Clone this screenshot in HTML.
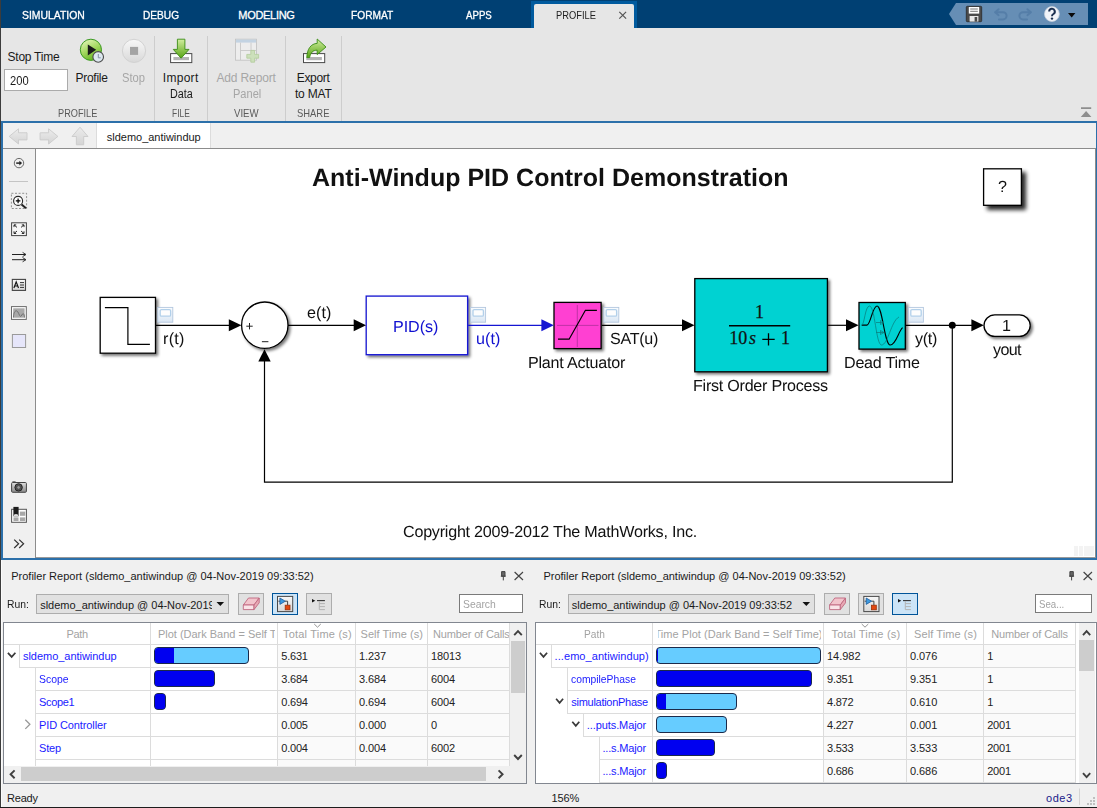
<!DOCTYPE html>
<html><head><meta charset="utf-8"><title>sldemo_antiwindup</title>
<style>
*{box-sizing:border-box;margin:0;padding:0}
html,body{width:1097px;height:808px;overflow:hidden;background:#f0f0f0;font-family:"Liberation Sans",sans-serif;}
.a{position:absolute}
.t{position:absolute;white-space:nowrap;line-height:normal}
svg{position:absolute;left:0;top:0;overflow:visible}
#tabbar{left:0;top:0;width:1097px;height:28px;background:#004073}
#ptab{left:531px;top:1px;width:106px;height:27px;background:#005a9e}
#ptabin{left:534px;top:4px;width:100px;height:24px;background:#e6e6e6;border-radius:2px 2px 0 0}
#strip{left:0;top:28px;width:1097px;height:93px;background:#e6e6e6}
.vsep{position:absolute;top:36px;width:1px;height:85px;background:#cdcdcd}
#editor{left:1px;top:120.5px;width:1096px;height:439px;background:#2c70aa}
#expl{left:3px;top:123px;width:1093px;height:26px;background:#f0f0f0;border-bottom:1.6px solid #8c8c8c}
#etab{left:96.4px;top:123px;width:114.8px;height:24.5px;background:#fff;border-left:1px solid #dcdcdc;border-right:1px solid #dcdcdc}
#pal{left:3px;top:149px;width:33px;height:408.5px;background:#f0f0f0;border-right:1px solid #8c8c8c}
#canvas{left:36px;top:149px;width:1060px;height:408.6px;background:#fff;border-right:1px solid #8c8c8c;border-bottom:0.8px solid #9a9a9a}
#bottom{left:0;top:560px;width:1097px;height:228px;background:#f0f0f0}
#status{left:0;top:788px;width:1097px;height:20px;background:#f0f0f0}
#leftedge{left:0;top:0;width:1px;height:808px;background:#3c3c3c}
.inp{position:absolute;background:#fff;border:1px solid #ababab}
.combo{position:absolute;background:#e1e1e1;border:1px solid #adadad}
.btn{position:absolute;background:#e1e1e1;border:1px solid #adadad}
.btn.sel{background:#cce4f7;border:1px solid #005499}
.tbl{position:absolute;background:#fff;border:1px solid #828790}
.hl{position:absolute;height:1px;background:#dcdcdc}
.vl{position:absolute;width:1px;background:#dcdcdc}
.bar{position:absolute;height:18px;border:1px solid #1b2a4a;border-radius:4px;overflow:hidden;background:#66ccff}
.bar i{position:absolute;left:0;top:0;bottom:0;background:#0000f0;display:block}
.sb{position:absolute;background:#f0f0f0}
.thumb{position:absolute;background:#cdcdcd}

</style></head><body>
<div class="a" id="tabbar"></div>
<div class="a" id="ptab"></div><div class="a" id="ptabin"></div>
<div class="a" id="strip"></div>
<div class="vsep" style="left:154px"></div><div class="vsep" style="left:207px"></div><div class="vsep" style="left:285px"></div><div class="vsep" style="left:341px"></div>
<div class="inp" style="left:4px;top:69px;width:64px;height:22px"></div>
<div class="a" id="editor"></div>
<div class="a" id="expl"></div>
<div class="a" id="etab"></div>
<div class="a" id="pal"></div>
<div class="a" id="canvas"></div>
<div class="a" id="faintrects" style="left:1074px;top:546px;width:3.8px;height:9.7px;background:#f3f3f3"></div><div class="a" style="left:1079.1px;top:546px;width:3.9px;height:9.7px;background:#f3f3f3"></div><div class="a" style="left:1084px;top:546px;width:9.8px;height:9.7px;background:#f3f3f3"></div>
<div class="a" id="bottom"></div>
<div class="a" id="status"></div>
<div class="a" id="leftedge"></div>
<div class="a" style="left:1px;top:560px;width:1px;height:247px;background:#fbfbfb"></div>
<div class="a" id="botedge" style="left:0;top:806.5px;width:1097px;height:1.5px;background:#1c1c1c"></div>
<div class="combo" style="left:36px;top:594px;width:193px;height:20px"></div>
<svg width="1097" height="808"><path d="M216.5 602h7.6l-3.8 4z" fill="#111"/></svg>
<div class="btn" style="left:238px;top:593px;width:26px;height:22px"></div>
<div class="btn sel" style="left:272px;top:593px;width:26px;height:22px"></div>
<div class="btn" style="left:306px;top:593px;width:26px;height:22px"></div>
<div class="inp" style="left:459px;top:594px;width:64px;height:19px;border-color:#7a7a7a"></div>
<div class="tbl" style="left:3px;top:622px;width:524px;height:162px"></div>
<div class="a" style="left:277px;top:645px;width:232px;height:122px;background:#fafafa"></div>
<div class="hl" style="left:4px;top:644px;width:505px"></div>
<div class="hl" style="left:19px;top:667px;width:490px"></div>
<div class="hl" style="left:35px;top:690px;width:474px"></div>
<div class="hl" style="left:35px;top:713px;width:474px"></div>
<div class="hl" style="left:35px;top:736px;width:474px"></div>
<div class="hl" style="left:35px;top:759px;width:474px"></div>
<div class="vl" style="left:150px;top:623px;height:143px"></div>
<div class="vl" style="left:277px;top:623px;height:143px"></div>
<div class="vl" style="left:355px;top:623px;height:143px"></div>
<div class="vl" style="left:427px;top:623px;height:143px"></div>
<div class="vl" style="left:509px;top:623px;height:143px"></div>
<div class="vl" style="left:19px;top:644px;height:24px"></div>
<div class="vl" style="left:35px;top:667px;height:24px"></div>
<div class="vl" style="left:35px;top:690px;height:24px"></div>
<div class="vl" style="left:35px;top:713px;height:24px"></div>
<div class="vl" style="left:35px;top:736px;height:24px"></div>
<div class="vl" style="left:35px;top:759px;height:7px"></div>
<div class="combo" style="left:568px;top:594px;width:247px;height:20px"></div>
<svg width="1097" height="808"><path d="M802.5 602h7.6l-3.8 4z" fill="#111"/></svg>
<div class="btn" style="left:824px;top:593px;width:26px;height:22px"></div>
<div class="btn" style="left:858px;top:593px;width:26px;height:22px"></div>
<div class="btn sel" style="left:892px;top:593px;width:26px;height:22px"></div>
<div class="inp" style="left:1035px;top:594px;width:57px;height:19px;border-color:#7a7a7a"></div>
<div class="tbl" style="left:535px;top:622px;width:562px;height:162px"></div>
<div class="a" style="left:823px;top:645px;width:252px;height:138px;background:#fafafa"></div>
<div class="hl" style="left:536px;top:644px;width:539px"></div>
<div class="hl" style="left:551px;top:667px;width:524px"></div>
<div class="hl" style="left:567px;top:690px;width:508px"></div>
<div class="hl" style="left:567px;top:713px;width:508px"></div>
<div class="hl" style="left:583px;top:736px;width:492px"></div>
<div class="hl" style="left:599px;top:759px;width:476px"></div>
<div class="hl" style="left:599px;top:782px;width:476px"></div>
<div class="vl" style="left:652px;top:623px;height:160px"></div>
<div class="vl" style="left:823px;top:623px;height:160px"></div>
<div class="vl" style="left:906px;top:623px;height:160px"></div>
<div class="vl" style="left:983px;top:623px;height:160px"></div>
<div class="vl" style="left:1075px;top:623px;height:160px"></div>
<div class="vl" style="left:551px;top:644px;height:24px"></div>
<div class="vl" style="left:567px;top:667px;height:24px"></div>
<div class="vl" style="left:567px;top:690px;height:24px"></div>
<div class="vl" style="left:583px;top:713px;height:24px"></div>
<div class="vl" style="left:599px;top:736px;height:24px"></div>
<div class="vl" style="left:599px;top:759px;height:24px"></div>
<div class="bar" style="left:153.7px;top:646.5px;width:95.0px;height:17.8px;background:#66ccff"><i style="width:19.3px"></i></div>
<div class="bar" style="left:153.7px;top:669.5px;width:61.6px;height:17.8px;background:#0000f0"><i style="width:60.6px"></i></div>
<div class="bar" style="left:153.7px;top:692.5px;width:12.8px;height:17.8px;background:#0000f0"><i style="width:11.8px"></i></div>
<div class="bar" style="left:656.0px;top:646.5px;width:165.0px;height:17.8px;background:#66ccff"><i style="width:1.0px"></i></div>
<div class="bar" style="left:656.0px;top:669.5px;width:156.3px;height:17.8px;background:#0000f0"><i style="width:155.3px"></i></div>
<div class="bar" style="left:656.0px;top:692.5px;width:81.2px;height:17.8px;background:#66ccff"><i style="width:9.0px"></i></div>
<div class="bar" style="left:656.0px;top:715.5px;width:71.4px;height:17.8px;background:#66ccff"><i style="width:0.0px"></i></div>
<div class="bar" style="left:656.0px;top:738.5px;width:59.1px;height:17.8px;background:#0000f0"><i style="width:58.1px"></i></div>
<div class="bar" style="left:656.0px;top:761.5px;width:11.2px;height:17.8px;background:#0000f0"><i style="width:10.2px"></i></div>
<svg width="1097" height="808">
<path d="M7.9 652.8L11.7 656.9L15.4 652.8" fill="none" stroke="#3a3a3a" stroke-width="1.7"/>
<path d="M25.3 719.6999999999999L29.9 724.3L25.3 728.9" fill="none" stroke="#999" stroke-width="1.3"/>
<path d="M539.9 652.8L543.5 656.9L547.1 652.8" fill="none" stroke="#3a3a3a" stroke-width="1.7"/>
<path d="M556.1 698.8L559.6 702.9L563.1 698.8" fill="none" stroke="#3a3a3a" stroke-width="1.7"/>
<path d="M572.3 721.8L575.8 725.9L579.3 721.8" fill="none" stroke="#3a3a3a" stroke-width="1.7"/>
</svg>
<!-- left panel scrollbars -->
<div class="sb" style="left:4px;top:766px;width:522px;height:17px"></div>
<div class="thumb" style="left:20.6px;top:767.4px;width:465.4px;height:13.6px"></div>
<div class="sb" style="left:510px;top:623px;width:16px;height:143px"></div>
<div class="thumb" style="left:510.6px;top:640.5px;width:14.6px;height:52.6px"></div>
<!-- right panel scrollbar -->
<div class="sb" style="left:1079px;top:623px;width:16px;height:160px"></div>
<div class="thumb" style="left:1079.4px;top:640.2px;width:14.4px;height:30.4px"></div>
<svg width="1097" height="808"><g fill="none" stroke="#404040" stroke-width="1.9">
<path d="M514.2 635.2L518 631.2L521.8 635.2"/><path d="M514.2 755L518 759L521.8 755"/>
<path d="M14.6 770.4L10.6 774.3L14.6 778.2"/><path d="M498.6 770.4L502.6 774.3L498.6 778.2"/>
<path d="M1083 635.2L1086.6 631.2L1090.2 635.2"/><path d="M1083 773.2L1086.6 777.2L1090.2 773.2"/>
</g>
<!-- status grip -->
<g fill="#bfbfbf"><rect x="1093" y="797" width="2" height="2"/><rect x="1090" y="800" width="2" height="2"/><rect x="1093" y="800" width="2" height="2"/><rect x="1087" y="803" width="2" height="2"/><rect x="1090" y="803" width="2" height="2"/><rect x="1093" y="803" width="2" height="2"/></g>
<path d="M1079.5 788.5V805" stroke="#d4d4d4" stroke-width="1"/>
</svg>

<svg width="1097" height="808" viewBox="0 0 1097 808">
<defs>
<linearGradient id="gGreen" x1="0.2" y1="0" x2="0.7" y2="1"><stop offset="0" stop-color="#e4f6b8"/><stop offset="0.5" stop-color="#a4d860"/><stop offset="1" stop-color="#5cb01c"/></linearGradient>
<linearGradient id="gGreenV" x1="0" y1="0" x2="0" y2="1"><stop offset="0" stop-color="#d2eea0"/><stop offset="1" stop-color="#58a414"/></linearGradient>
<linearGradient id="gGray" x1="0" y1="0" x2="0" y2="1"><stop offset="0" stop-color="#f8f8f8"/><stop offset="1" stop-color="#d8d8d8"/></linearGradient>
<linearGradient id="gNav" x1="0" y1="0" x2="0" y2="1"><stop offset="0" stop-color="#ececec"/><stop offset="1" stop-color="#d4d4d4"/></linearGradient>
<linearGradient id="gCam" x1="0" y1="0" x2="0" y2="1"><stop offset="0" stop-color="#e0e0e0"/><stop offset="1" stop-color="#8a8a8a"/></linearGradient>
</defs>
<!-- quick access toolbar -->
<path d="M949 14L956 3H1088V25H956z" fill="#668eb5"/>
<g><!-- save -->
<rect x="966.3" y="6.3" width="15.4" height="15.4" rx="1" fill="#4a4a4a" stroke="#2a2a2a" stroke-width="0.8"/>
<rect x="968.8" y="7" width="10.4" height="6.6" fill="#fff"/>
<path d="M970.2 9h7.6M970.2 11.3h7.6" stroke="#777" stroke-width="1"/>
<rect x="969.6" y="16" width="8.8" height="5.6" fill="#e8e8e8"/>
<rect x="974.6" y="17" width="2.6" height="4.6" fill="#4a4a4a"/>
</g>
<g fill="none" stroke="#557ea8" stroke-width="2" stroke-linecap="round" stroke-linejoin="round">
<path d="M995.5 12.2H1003a3.6 3.6 0 0 1 0 7.2H999"/><path d="M998.6 9.2L995.2 12.2L998.6 15.2"/>
<path d="M1030.5 12.2H1023a3.6 3.6 0 0 0 0 7.2H1027"/><path d="M1027.4 9.2L1030.8 12.2L1027.4 15.2"/>
</g>
<circle cx="1051.9" cy="14" r="7.4" fill="#f2f4f8" stroke="#c8d0dc" stroke-width="0.8"/>
<path d="M1049.2 11.6a2.8 2.8 0 1 1 4.2 2.4c-1 .6-1.4 1.1-1.4 2.2" fill="none" stroke="#1c3050" stroke-width="2"/>
<circle cx="1052" cy="18.6" r="1.2" fill="#1c3050"/>
<path d="M1068 13h7.4l-3.7 4.4z" fill="#0a0a0a"/>
<!-- PROFILE tab close x -->
<path d="M619.3 11.8l6.8 6.8M626.1 11.8l-6.8 6.8" stroke="#555" stroke-width="1.2"/>
<!-- collapse -->
<path d="M1081 107.2h10.2v1.8H1081zM1086.1 111L1091.4 117H1080.8z" fill="#8e8e8e"/>
<!-- Profile icon -->
<circle cx="90.9" cy="49.8" r="10.6" fill="url(#gGreen)" stroke="#3c9a24" stroke-width="1"/>
<path d="M87.8 44.6V55.4L96.2 49.8z" fill="#1a1a1a"/>
<circle cx="98.2" cy="56.9" r="5.3" fill="#dde8f0" stroke="#4c4c4c" stroke-width="1.1"/>
<path d="M98.3 54v3.8h2.4" fill="none" stroke="#8090a0" stroke-width="1"/>
<!-- Stop icon -->
<circle cx="134" cy="50.9" r="11.6" fill="url(#gGray)" stroke="#d2d2d2" stroke-width="1"/>
<rect x="130" y="46.9" width="8.1" height="8" fill="#a4a4a4"/>
<!-- Import -->
<rect x="170.6" y="53.6" width="21.2" height="9" fill="#fff" stroke="#4a4a4a" stroke-width="1"/>
<rect x="173.4" y="57" width="15.6" height="3.2" fill="#b4b4b4"/>
<path d="M177.4 39.2H184.9V49.4H189L181.1 58.2L173.3 49.4H177.4z" fill="url(#gGreenV)" stroke="#3a8c14" stroke-width="0.9"/>
<!-- Add report panel (disabled) -->
<g opacity="0.55">
<rect x="235.5" y="39.2" width="21" height="21" fill="#f4f4f4" stroke="#a8a8a8" stroke-width="0.9"/>
<rect x="235.9" y="39.6" width="20.2" height="3" fill="#a8c4e0"/>
<path d="M240.5 42.6V60M240.5 50.5H256.5M251 42.6V50.5" stroke="#b0b0b0" stroke-width="0.9" fill="none"/>
<path d="M250.8 50.4h3.8v4h4v3.8h-4v4h-3.8v-4h-4v-3.8h4z" fill="#b8dc98" stroke="#88b860" stroke-width="0.8"/>
</g>
<!-- Export -->
<rect x="303.5" y="53.6" width="21.2" height="9" fill="#fff" stroke="#4a4a4a" stroke-width="1"/>
<rect x="306.3" y="57" width="15.6" height="3.2" fill="#b4b4b4"/>
<path d="M306.8 57.6C307 49 311 43.6 317.2 43.4V39L326 47L317.2 54.6V50.2C312.8 50.2 310.6 52.6 309.6 57.6z" fill="url(#gGreenV)" stroke="#3a8c14" stroke-width="0.9"/>
<!-- nav arrows -->
<g fill="url(#gNav)" stroke="#cbcbcb" stroke-width="0.9">
<path d="M9.2 136.4L18.5 128.8V132.8H27V139.9H18.5V144L9.2 136.4z"/>
<path d="M57.9 136.4L48.6 128.8V132.8H40.1V139.9H48.6V144L57.9 136.4z"/>
<path d="M80 127.2L88 136.5H83.7V144.8H76.4V136.5H72z"/>
</g>
<!-- palette -->
<g fill="none" stroke="#333" stroke-width="1.1">
<circle cx="19" cy="163.1" r="4.7" stroke="#6a6a6a" stroke-width="1"/>
<path d="M16.2 163.1h4" stroke="#222" stroke-width="1.5"/><path d="M19.4 160.7l2.7 2.4l-2.7 2.4z" fill="#222" stroke="none"/>
<path d="M9 181.5H28" stroke="#c4c4c4" stroke-width="1"/>
<rect x="11.4" y="193.3" width="15.2" height="15.2" stroke="#777" stroke-width="0.8" stroke-dasharray="2 1.6"/>
<circle cx="18.1" cy="200.9" r="4.5" fill="#fff" stroke="#2a2a2a" stroke-width="1.15"/>
<path d="M15.8 200.9h4.6M18.1 198.6v4.6" stroke="#000" stroke-width="1.2"/>
<path d="M21.6 204.4L26 208.2" stroke="#222" stroke-width="2"/>
<rect x="11.6" y="222.8" width="14.8" height="12.8" fill="#f6f6f6" stroke="#444" stroke-width="1"/>
<path d="M17 227.4L14 224.9M14 224.9h2.2M14 224.9v2.2M21 227.4L24 224.9M24 224.9h-2.2M24 224.9v2.2M17 231L14 233.5M14 233.5h2.2M14 233.5v-2.2M21 231L24 233.5M24 233.5h-2.2M24 233.5v-2.2" stroke="#222" stroke-width="0.95"/>
<path d="M12 254.5H25.5M12 259.7H25.5" stroke="#222" stroke-width="1"/>
<path d="M22.6 252.4L26 254.5L22.6 256.6M22.6 257.6L26 259.7L22.6 261.8" stroke="#222" stroke-width="0.9"/>
<rect x="12.3" y="279.4" width="13.2" height="11" fill="url(#gGray)" stroke="#444" stroke-width="1.1"/>
<path d="M13.9 288L16.2 281.8L18.5 288M14.8 286h2.8" stroke="#111" stroke-width="1.15" stroke-linejoin="miter"/>
<path d="M20 282.6h4M20 285h4M20 287.4h4" stroke="#333" stroke-width="1"/>
<rect x="11.5" y="306.6" width="14.8" height="12.8" fill="#fff" stroke="#6a6a6a" stroke-width="1"/>
<rect x="13.2" y="308.3" width="11.4" height="9.4" fill="#a9a9a9" stroke="none"/>
<path d="M13.4 317.5C13.6 312.5 15 310.8 16.4 310.8C18.4 310.8 19.2 316.4 20.6 316.4C21.6 316.4 22 313.6 23.2 313.6C24 313.6 24.4 315.6 24.5 317.5" stroke="#6c6c6c" stroke-width="0.9"/>
<rect x="12.4" y="334.5" width="13.2" height="13" fill="#e6e6fa" stroke="#9a9a9a" stroke-width="1"/>
<!-- camera -->
<path d="M12.4 482.4h3.2v-1.2h-3.2z" fill="#666" stroke="none"/>
<rect x="11.6" y="482.5" width="14.8" height="9.8" rx="1" fill="url(#gCam)" stroke="#444" stroke-width="1"/>
<circle cx="18.6" cy="487.4" r="3.7" fill="#555" stroke="#222" stroke-width="1"/>
<circle cx="18.6" cy="487.4" r="1.8" fill="#999" stroke="#333" stroke-width="0.6"/>
<!-- library -->
<rect x="11.6" y="509.3" width="14.8" height="13" fill="#fff" stroke="#555" stroke-width="1"/>
<rect x="13.4" y="506.9" width="5.2" height="9.4" fill="#1c1c1c" stroke="none"/>
<path d="M13.6 516.2a2.4 2.2 0 0 1 4.8 0z" fill="#ddd" stroke="none"/>
<rect x="19.9" y="511.6" width="5.4" height="4.2" fill="#a8a8a8" stroke="none"/>
<rect x="13.5" y="517.4" width="5" height="3.6" fill="#a8a8a8" stroke="none"/>
<rect x="19.9" y="517.4" width="5.4" height="3.6" fill="#a8a8a8" stroke="none"/>
<path d="M14.2 539.6L18.6 543.8L14.2 548M19.2 539.6L23.6 543.8L19.2 548" stroke="#333" stroke-width="1.2"/>
</g>
<!-- panel title icons: pin & close -->
<g id="pinL"><path d="M501.6 571.6h3.4v4.6h-3.4zM500.8 576.2h5M503.3 576.4v4" stroke="#444" stroke-width="1" fill="#666"/></g>
<path d="M514.6 572l8.4 8M523 572l-8.4 8" stroke="#444" stroke-width="1.2"/>
<g><path d="M1069.9 571.6h3.4v4.6h-3.4zM1069.1 576.2h5M1071.6 576.4v4" stroke="#444" stroke-width="1" fill="#666"/></g>
<path d="M1083.6 572l8.4 8M1092 572l-8.4 8" stroke="#444" stroke-width="1.2"/>
<!-- sort arrows -->
<path d="M314.2 624L317.5 627.2L320.8 624" fill="none" stroke="#888" stroke-width="0.9"/>
<path d="M861.7 624L865 627.2L868.3 624" fill="none" stroke="#888" stroke-width="0.9"/>
<!-- panel toolbar button icons -->
<g id="er1">
<path d="M248.5 598H259.2L254 605H243.3z" fill="#f2c4cc" stroke="#c06880" stroke-width="0.9" stroke-linejoin="round"/>
<path d="M243.3 605H254V609.6H243.3z" fill="#fae4e8" stroke="#c06880" stroke-width="0.9" stroke-linejoin="round"/>
<path d="M254 605L259.2 598V602.8L254 609.6z" fill="#e8a8b4" stroke="#c06880" stroke-width="0.9" stroke-linejoin="round"/>
</g>
<use href="#er1" x="586.3"/>
<g id="ps1">
<rect x="277.5" y="596.4" width="15.2" height="15.2" fill="url(#gGray)" stroke="#4a4a4a" stroke-width="1"/>
<path d="M278.4 601.2h2M285 601.2h2.6v4" fill="none" stroke="#333" stroke-width="0.9"/>
<path d="M279.9 598V604.4L285.3 601.2z" fill="#3c9ae0" stroke="#1c5a9c" stroke-width="0.8"/>
<rect x="285.2" y="605.2" width="4.8" height="4.6" fill="#e44810" stroke="#9c3008" stroke-width="0.8"/>
</g>
<use href="#ps1" x="586.3"/>
<g id="tr1">
<path d="M312 599v3.6l3.3-1.8z" fill="#111"/>
<path d="M317 600.6h7.9" stroke="#333" stroke-width="1.1"/>
<path d="M319.3 601.2V609.6H324.9M319.3 603.6h5.6M319.3 606.6h5.6" fill="none" stroke="#b4b4b4" stroke-width="1"/>
</g>
<use href="#tr1" x="586"/>
</svg>

<svg width="1097" height="808" viewBox="0 0 1097 808">
<defs>
<filter id="sh" x="-20%" y="-20%" width="150%" height="150%"><feGaussianBlur in="SourceAlpha" stdDeviation="1.5"/><feOffset dx="2.2" dy="2.2"/><feComponentTransfer><feFuncA type="linear" slope="0.55"/></feComponentTransfer><feMerge><feMergeNode/><feMergeNode in="SourceGraphic"/></feMerge></filter>
<filter id="sh2" x="-20%" y="-20%" width="160%" height="160%"><feGaussianBlur in="SourceAlpha" stdDeviation="2.1"/><feOffset dx="3.6" dy="3.6"/><feComponentTransfer><feFuncA type="linear" slope="0.85"/></feComponentTransfer><feMerge><feMergeNode/><feMergeNode in="SourceGraphic"/></feMerge></filter>
<linearGradient id="gBadge" x1="0" y1="0" x2="0" y2="1"><stop offset="0" stop-color="#fafcfe"/><stop offset="1" stop-color="#dbe7f4"/></linearGradient>
<g id="badge"><rect x="0.5" y="0.3" width="15" height="14.8" fill="url(#gBadge)" stroke="#b3c7de" stroke-width="0.9"/><rect x="2.9" y="2.5" width="10.4" height="6.6" rx="1.2" fill="#fdfdfd" stroke="#b2d0ea" stroke-width="1.3"/></g>
</defs>
<g stroke="#000" stroke-width="1.3" fill="none">
<!-- ? box -->
<rect x="983.6" y="168.8" width="37.8" height="36.5" fill="#fff" filter="url(#sh2)"/>
<!-- step -->
<rect x="100.2" y="297.4" width="55.3" height="55.8" fill="#fff" filter="url(#sh)"/>
<path d="M104.9 307.6H127.9V344.3H149.9" stroke-width="1.2"/>
<!-- sum -->
<circle cx="264.8" cy="325.2" r="23.2" fill="#fff" filter="url(#sh)"/>
<path d="M246.3 326.2h6.4M249.5 323v6.4M261.9 341.7h6.5" stroke-width="1" stroke="#222"/>
<!-- PID -->
<rect x="366.2" y="296.1" width="101.4" height="58.6" fill="#fff" stroke="#1515d2" filter="url(#sh)"/>
<!-- sat -->
<rect x="554" y="302.4" width="47.1" height="46.2" fill="#ff40d2" filter="url(#sh)"/>
<path d="M577.3 305v42M557 325.4h41.5" stroke="#b0309a" stroke-width="0.8"/>
<path d="M558 339.2H569.1L585.4 310.3H596.9" stroke-width="1.2"/>
<!-- TF -->
<rect x="694.8" y="278.6" width="132.6" height="93.2" fill="#00d2d2" filter="url(#sh)"/>
<path d="M729 325.8H790.2" stroke-width="1.4"/>
<path d="M762.3 339.4H774.7M768.5 333.3V345.5" stroke-width="1.3"/>
<!-- dead time -->
<rect x="859" y="302.5" width="46.3" height="46.6" fill="#00d2d2" filter="url(#sh)"/>
<path d="M861.7 325.1H867C870.5 325.1 872.5 306 877 306C882.5 306 884.5 345 890.2 345C896 345 898.5 331 902.6 327.6" stroke-width="1.15"/>
<path d="M861.7 325.1C864.5 325.1 865 306 869.5 306C875 306 876 345 881.5 345C888 345 891 321 899 317" stroke="#0a7a7a" stroke-width="0.7"/>
<path d="M876 322.5h7.5M876 332.5h7.5" stroke="#0a7a7a" stroke-width="0.7"/>
<path d="M880.5 320.5l3.5 2l-3.5 2zM880.5 330.5l3.5 2l-3.5 2z" stroke="#0a7a7a" stroke-width="0.7"/>
<!-- outport -->
<rect x="984" y="314.8" width="46.2" height="21.6" rx="10.8" fill="#fff" filter="url(#sh)"/>
<!-- lines -->
<g stroke-width="1.2">
<path d="M156 325.3H230"/>
<path d="M288 325.3H355"/>
<path d="M468.2 325.3H543" stroke="#1515d2"/>
<path d="M601.7 325.3H683"/>
<path d="M828 325.3H847"/>
<path d="M905.9 325.3H973"/>
<path d="M952.3 325.3V482.2H264.5V361"/>
</g>
</g>
<g fill="#000">
<path d="M228.8 319.3L241.4 325.3L228.8 331.3z"/>
<path d="M353.7 319.3L366 325.3L353.7 331.3z"/>
<path d="M541.4 319.3L553.8 325.3L541.4 331.3z" fill="#1515d2"/>
<path d="M682 319.3L694.5 325.3L682 331.3z"/>
<path d="M846 319.3L858.6 325.3L846 331.3z"/>
<path d="M971.4 319.3L983.8 325.3L971.4 331.3z"/>
<path d="M258.3 361.6L264.5 349.2L270.7 361.6z"/>
<circle cx="952.3" cy="325.2" r="3.5"/>
</g>
<use href="#badge" x="157.3" y="307.1"/>
<use href="#badge" x="470.1" y="307.1"/>
<use href="#badge" x="603.3" y="307.1"/>
<use href="#badge" x="907.9" y="307.1"/>
</svg>


<div class="t" style="left:22.40px;top:9.20px;font-size:11px;color:#ffffff;letter-spacing:0.000px;-webkit-text-stroke:0.3px #fff;transform:scaleX(0.9463);transform-origin:0 0;">SIMULATION</div>
<div class="t" style="left:142.50px;top:9.20px;font-size:11px;color:#ffffff;letter-spacing:0.000px;-webkit-text-stroke:0.3px #fff;transform:scaleX(0.9206);transform-origin:0 0;">DEBUG</div>
<div class="t" style="left:238.30px;top:9.20px;font-size:11px;color:#ffffff;letter-spacing:-0.303px;-webkit-text-stroke:0.3px #fff;">MODELING</div>
<div class="t" style="left:350.50px;top:9.20px;font-size:11px;color:#ffffff;letter-spacing:0.000px;-webkit-text-stroke:0.3px #fff;transform:scaleX(0.9259);transform-origin:0 0;">FORMAT</div>
<div class="t" style="left:465.50px;top:9.20px;font-size:11px;color:#ffffff;letter-spacing:0.000px;-webkit-text-stroke:0.3px #fff;transform:scaleX(0.8790);transform-origin:0 0;">APPS</div>
<div class="t" style="left:556.40px;top:9.20px;font-size:11px;color:#222;letter-spacing:0.000px;transform:scaleX(0.8474);transform-origin:0 0;">PROFILE</div>
<div class="t" style="left:7.60px;top:49.60px;font-size:12px;color:#1a1a1a;letter-spacing:-0.258px;">Stop Time</div>
<div class="t" style="left:9.50px;top:73.70px;font-size:12px;color:#1a1a1a;letter-spacing:0.000px;transform:scaleX(0.9289);transform-origin:0 0;">200</div>
<div class="t" style="left:75.50px;top:70.80px;font-size:12px;color:#1a1a1a;letter-spacing:-0.273px;">Profile</div>
<div class="t" style="left:121.80px;top:70.80px;font-size:12px;color:#a6a6a6;letter-spacing:0.000px;transform:scaleX(0.9316);transform-origin:0 0;">Stop</div>
<div class="t" style="left:162.80px;top:70.80px;font-size:12px;color:#1a1a1a;letter-spacing:0.285px;">Import</div>
<div class="t" style="left:170.00px;top:86.60px;font-size:12px;color:#1a1a1a;letter-spacing:0.000px;transform:scaleX(0.8997);transform-origin:0 0;">Data</div>
<div class="t" style="left:216.40px;top:70.80px;font-size:12px;color:#a6a6a6;letter-spacing:-0.130px;">Add Report</div>
<div class="t" style="left:232.70px;top:86.60px;font-size:12px;color:#a6a6a6;letter-spacing:0.000px;transform:scaleX(0.9192);transform-origin:0 0;">Panel</div>
<div class="t" style="left:296.70px;top:70.80px;font-size:12px;color:#1a1a1a;letter-spacing:-0.310px;">Export</div>
<div class="t" style="left:294.90px;top:86.60px;font-size:12px;color:#1a1a1a;letter-spacing:-0.170px;">to MAT</div>
<div class="t" style="left:57.90px;top:107.60px;font-size:10.2px;color:#5a5a5a;letter-spacing:0.000px;transform:scaleX(0.9019);transform-origin:0 0;">PROFILE</div>
<div class="t" style="left:172.00px;top:107.60px;font-size:10.2px;color:#5a5a5a;letter-spacing:0.000px;transform:scaleX(0.8288);transform-origin:0 0;">FILE</div>
<div class="t" style="left:234.00px;top:107.60px;font-size:10.2px;color:#5a5a5a;letter-spacing:0.000px;transform:scaleX(0.9462);transform-origin:0 0;">VIEW</div>
<div class="t" style="left:297.40px;top:107.60px;font-size:10.2px;color:#5a5a5a;letter-spacing:0.000px;transform:scaleX(0.9234);transform-origin:0 0;">SHARE</div>
<div class="t" style="left:106.80px;top:131.00px;font-size:11px;color:#1a1a1a;letter-spacing:-0.016px;">sldemo_antiwindup</div>
<div class="t" style="left:312.30px;top:164.00px;font-size:25px;color:#111;letter-spacing:0.013px;font-weight:bold;will-change:transform;text-rendering:geometricPrecision;">Anti-Windup PID Control Demonstration</div>
<div class="t" style="left:998.00px;top:178.00px;font-size:16.1px;color:#111;letter-spacing:0.000px;will-change:transform;text-rendering:geometricPrecision;">?</div>
<div class="t" style="left:403.00px;top:523.00px;font-size:16.1px;color:#111;letter-spacing:-0.223px;will-change:transform;text-rendering:geometricPrecision;">Copyright 2009-2012 The MathWorks, Inc.</div>
<div class="t" style="left:163.00px;top:330.00px;font-size:16.1px;color:#111;letter-spacing:0.270px;will-change:transform;text-rendering:geometricPrecision;">r(t)</div>
<div class="t" style="left:307.00px;top:304.00px;font-size:16.1px;color:#111;letter-spacing:0.073px;will-change:transform;text-rendering:geometricPrecision;">e(t)</div>
<div class="t" style="left:393.00px;top:318.00px;font-size:16.1px;color:#1010d0;letter-spacing:-0.047px;will-change:transform;text-rendering:geometricPrecision;">PID(s)</div>
<div class="t" style="left:476.00px;top:330.00px;font-size:16.1px;color:#1010d0;letter-spacing:0.073px;will-change:transform;text-rendering:geometricPrecision;">u(t)</div>
<div class="t" style="left:528.20px;top:354.00px;font-size:16.1px;color:#111;letter-spacing:-0.225px;will-change:transform;text-rendering:geometricPrecision;">Plant Actuator</div>
<div class="t" style="left:610.00px;top:330.00px;font-size:16.1px;color:#111;letter-spacing:-0.283px;will-change:transform;text-rendering:geometricPrecision;">SAT(u)</div>
<div class="t" style="left:693.00px;top:377.00px;font-size:16.1px;color:#111;letter-spacing:-0.247px;will-change:transform;text-rendering:geometricPrecision;">First Order Process</div>
<div class="t" style="left:844.00px;top:354.00px;font-size:16.1px;color:#111;letter-spacing:-0.245px;will-change:transform;text-rendering:geometricPrecision;">Dead Time</div>
<div class="t" style="left:915.00px;top:330.00px;font-size:16.1px;color:#111;letter-spacing:-0.293px;will-change:transform;text-rendering:geometricPrecision;">y(t)</div>
<div class="t" style="left:1002.00px;top:317.00px;font-size:16.1px;color:#111;letter-spacing:0.000px;will-change:transform;text-rendering:geometricPrecision;">1</div>
<div class="t" style="left:993.00px;top:341.00px;font-size:16.1px;color:#111;letter-spacing:-0.649px;will-change:transform;text-rendering:geometricPrecision;">yout</div>
<div class="t" style="left:755.00px;top:302.20px;font-size:18px;color:#111;letter-spacing:0.000px;font-family:'Liberation Serif',serif;-webkit-text-stroke:0.25px #111;">1</div>
<div class="t" style="left:729.20px;top:327.70px;font-size:18px;color:#111;letter-spacing:0.000px;font-family:'Liberation Serif',serif;-webkit-text-stroke:0.25px #111;">10</div>
<div class="t" style="left:749.00px;top:327.70px;font-size:18px;color:#111;letter-spacing:0.000px;font-family:'Liberation Serif',serif;font-style:italic;-webkit-text-stroke:0.25px #111;">s</div>
<div class="t" style="left:781.00px;top:327.70px;font-size:18px;color:#111;letter-spacing:0.000px;font-family:'Liberation Serif',serif;-webkit-text-stroke:0.25px #111;">1</div>
<div class="t" style="left:7.00px;top:792.00px;font-size:11px;color:#1a1a1a;letter-spacing:-0.199px;">Ready</div>
<div class="t" style="left:551.50px;top:792.00px;font-size:11px;color:#1a1a1a;letter-spacing:-0.118px;">156%</div>
<div class="t" style="left:1046.00px;top:792.00px;font-size:11px;color:#1a1a8a;letter-spacing:0.549px;">ode3</div>
<div class="t" style="left:11.20px;top:569.70px;font-size:11px;color:#1a1a1a;letter-spacing:0.004px;">Profiler Report (sldemo_antiwindup @ 04-Nov-2019 09:33:52)</div>
<div class="t" style="left:543.40px;top:569.70px;font-size:11px;color:#1a1a1a;letter-spacing:0.001px;">Profiler Report (sldemo_antiwindup @ 04-Nov-2019 09:33:52)</div>
<div class="t" style="left:7.40px;top:597.90px;font-size:11px;color:#1a1a1a;letter-spacing:0.000px;transform:scaleX(0.9405);transform-origin:0 0;">Run:</div>
<div class="t" style="left:539.40px;top:597.90px;font-size:11px;color:#1a1a1a;letter-spacing:0.000px;transform:scaleX(0.9405);transform-origin:0 0;">Run:</div>
<div class="t" style="left:40.20px;top:598.60px;font-size:11px;color:#1a1a1a;letter-spacing:-0.018px;width:171.5px;overflow:hidden;">sldemo_antiwindup @ 04-Nov-2019 09:33:52</div>
<div class="t" style="left:571.80px;top:598.60px;font-size:11px;color:#1a1a1a;letter-spacing:-0.018px;">sldemo_antiwindup @ 04-Nov-2019 09:33:52</div>
<div class="t" style="left:462.90px;top:597.80px;font-size:11px;color:#a3a3a3;letter-spacing:0.000px;transform:scaleX(0.9414);transform-origin:0 0;">Search</div>
<div class="t" style="left:1039.30px;top:597.80px;font-size:11px;color:#a3a3a3;letter-spacing:0.000px;transform:scaleX(0.8785);transform-origin:0 0;">Sea...</div>
<div class="t" style="left:66.50px;top:627.70px;font-size:11px;color:#a3a3a3;letter-spacing:-0.304px;">Path</div>
<div class="t" style="left:157.90px;top:627.70px;font-size:11px;color:#a3a3a3;letter-spacing:-0.005px;width:117px;overflow:hidden;">Plot (Dark Band = Self Time)</div>
<div class="t" style="left:283.00px;top:627.70px;font-size:11px;color:#a3a3a3;letter-spacing:0.204px;">Total Time (s)</div>
<div class="t" style="left:360.50px;top:627.70px;font-size:11px;color:#a3a3a3;letter-spacing:0.061px;">Self Time (s)</div>
<div class="t" style="left:433.00px;top:627.70px;font-size:11px;color:#a3a3a3;letter-spacing:-0.147px;width:76px;overflow:hidden;">Number of Calls</div>
<div class="t" style="left:584.00px;top:627.70px;font-size:11px;color:#a3a3a3;letter-spacing:0.000px;transform:scaleX(0.9240);transform-origin:0 0;">Path</div>
<div class="t" style="left:654.50px;top:627.70px;font-size:11px;color:#a3a3a3;letter-spacing:0.037px;clip-path:inset(0 1.5px 0 3.6px);">Time Plot (Dark Band = Self Time)</div>
<div class="t" style="left:831.60px;top:627.70px;font-size:11px;color:#a3a3a3;letter-spacing:0.196px;">Total Time (s)</div>
<div class="t" style="left:914.10px;top:627.70px;font-size:11px;color:#a3a3a3;letter-spacing:0.086px;">Self Time (s)</div>
<div class="t" style="left:991.20px;top:627.70px;font-size:11px;color:#a3a3a3;letter-spacing:-0.147px;">Number of Calls</div>
<div class="t" style="left:23.00px;top:649.60px;font-size:11px;color:#1a1aff;letter-spacing:-0.035px;">sldemo_antiwindup</div>
<div class="t" style="left:281.30px;top:649.80px;font-size:11px;color:#222;letter-spacing:-0.227px;">5.631</div>
<div class="t" style="left:359.00px;top:649.80px;font-size:11px;color:#222;letter-spacing:-0.102px;">1.237</div>
<div class="t" style="left:431.00px;top:649.80px;font-size:11px;color:#222;letter-spacing:-0.118px;">18013</div>
<div class="t" style="left:39.00px;top:672.60px;font-size:11px;color:#1a1aff;letter-spacing:0.000px;transform:scaleX(0.9494);transform-origin:0 0;">Scope</div>
<div class="t" style="left:281.30px;top:672.80px;font-size:11px;color:#222;letter-spacing:-0.227px;">3.684</div>
<div class="t" style="left:359.00px;top:672.80px;font-size:11px;color:#222;letter-spacing:-0.102px;">3.684</div>
<div class="t" style="left:431.00px;top:672.80px;font-size:11px;color:#222;letter-spacing:-0.118px;">6004</div>
<div class="t" style="left:39.00px;top:695.60px;font-size:11px;color:#1a1aff;letter-spacing:-0.338px;">Scope1</div>
<div class="t" style="left:281.30px;top:695.80px;font-size:11px;color:#222;letter-spacing:-0.227px;">0.694</div>
<div class="t" style="left:359.00px;top:695.80px;font-size:11px;color:#222;letter-spacing:-0.102px;">0.694</div>
<div class="t" style="left:431.00px;top:695.80px;font-size:11px;color:#222;letter-spacing:-0.118px;">6004</div>
<div class="t" style="left:39.00px;top:718.60px;font-size:11px;color:#1a1aff;letter-spacing:-0.109px;">PID Controller</div>
<div class="t" style="left:281.30px;top:718.80px;font-size:11px;color:#222;letter-spacing:-0.227px;">0.005</div>
<div class="t" style="left:359.00px;top:718.80px;font-size:11px;color:#222;letter-spacing:-0.102px;">0.000</div>
<div class="t" style="left:431.00px;top:718.80px;font-size:11px;color:#222;letter-spacing:0.000px;">0</div>
<div class="t" style="left:39.00px;top:741.60px;font-size:11px;color:#1a1aff;letter-spacing:-0.170px;">Step</div>
<div class="t" style="left:281.30px;top:741.80px;font-size:11px;color:#222;letter-spacing:-0.227px;">0.004</div>
<div class="t" style="left:359.00px;top:741.80px;font-size:11px;color:#222;letter-spacing:-0.102px;">0.004</div>
<div class="t" style="left:431.00px;top:741.80px;font-size:11px;color:#222;letter-spacing:-0.118px;">6002</div>
<div class="t" style="left:554.60px;top:649.60px;font-size:11px;color:#1a1aff;letter-spacing:0.066px;">...emo_antiwindup)</div>
<div class="t" style="left:827.00px;top:649.80px;font-size:11px;color:#222;letter-spacing:-0.025px;">14.982</div>
<div class="t" style="left:909.90px;top:649.80px;font-size:11px;color:#222;letter-spacing:-0.027px;">0.076</div>
<div class="t" style="left:987.20px;top:649.80px;font-size:11px;color:#222;letter-spacing:0.000px;">1</div>
<div class="t" style="left:571.30px;top:672.60px;font-size:11px;color:#1a1aff;letter-spacing:0.000px;transform:scaleX(0.9395);transform-origin:0 0;">compilePhase</div>
<div class="t" style="left:827.00px;top:672.80px;font-size:11px;color:#222;letter-spacing:-0.227px;">9.351</div>
<div class="t" style="left:909.90px;top:672.80px;font-size:11px;color:#222;letter-spacing:-0.027px;">9.351</div>
<div class="t" style="left:987.20px;top:672.80px;font-size:11px;color:#222;letter-spacing:0.000px;">1</div>
<div class="t" style="left:571.30px;top:695.60px;font-size:11px;color:#1a1aff;letter-spacing:-0.278px;">simulationPhase</div>
<div class="t" style="left:827.00px;top:695.80px;font-size:11px;color:#222;letter-spacing:-0.227px;">4.872</div>
<div class="t" style="left:909.90px;top:695.80px;font-size:11px;color:#222;letter-spacing:-0.027px;">0.610</div>
<div class="t" style="left:987.20px;top:695.80px;font-size:11px;color:#222;letter-spacing:0.000px;">1</div>
<div class="t" style="left:586.80px;top:718.60px;font-size:11px;color:#1a1aff;letter-spacing:-0.088px;">...puts.Major</div>
<div class="t" style="left:827.00px;top:718.80px;font-size:11px;color:#222;letter-spacing:-0.227px;">4.227</div>
<div class="t" style="left:909.90px;top:718.80px;font-size:11px;color:#222;letter-spacing:-0.027px;">0.001</div>
<div class="t" style="left:987.20px;top:718.80px;font-size:11px;color:#222;letter-spacing:-0.184px;">2001</div>
<div class="t" style="left:602.40px;top:741.60px;font-size:11px;color:#1a1aff;letter-spacing:-0.152px;">...s.Major</div>
<div class="t" style="left:827.00px;top:741.80px;font-size:11px;color:#222;letter-spacing:-0.227px;">3.533</div>
<div class="t" style="left:909.90px;top:741.80px;font-size:11px;color:#222;letter-spacing:-0.027px;">3.533</div>
<div class="t" style="left:987.20px;top:741.80px;font-size:11px;color:#222;letter-spacing:-0.184px;">2001</div>
<div class="t" style="left:602.40px;top:764.60px;font-size:11px;color:#1a1aff;letter-spacing:-0.152px;">...s.Major</div>
<div class="t" style="left:827.00px;top:764.80px;font-size:11px;color:#222;letter-spacing:-0.227px;">0.686</div>
<div class="t" style="left:909.90px;top:764.80px;font-size:11px;color:#222;letter-spacing:-0.027px;">0.686</div>
<div class="t" style="left:987.20px;top:764.80px;font-size:11px;color:#222;letter-spacing:-0.184px;">2001</div>
</body></html>
